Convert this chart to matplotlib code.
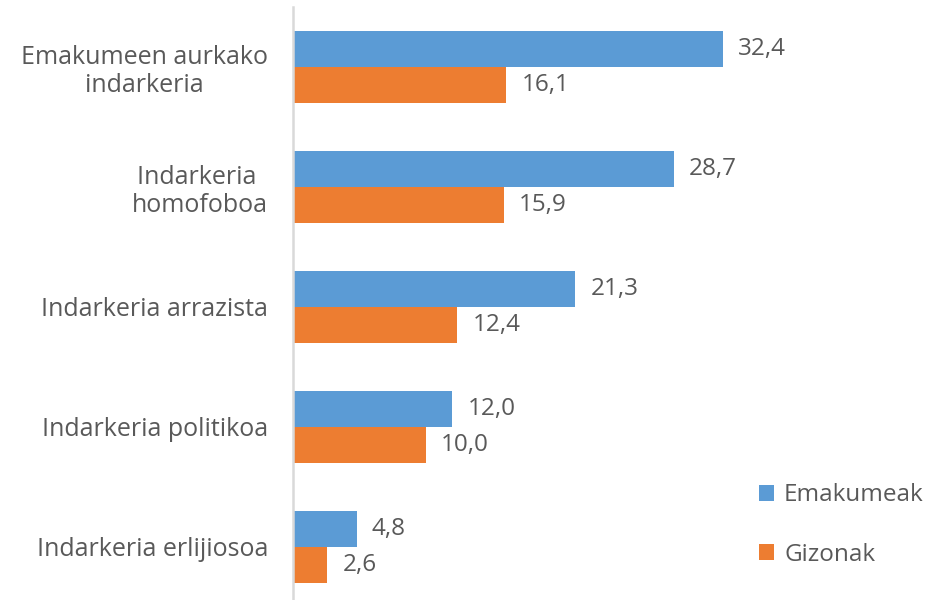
import matplotlib
matplotlib.use("Agg")
import matplotlib.pyplot as plt
from matplotlib.patches import Patch
import numpy as np

categories = ["Emakumeen aurkako\nindarkeria", "Indarkeria \nhomofoboa", "Indarkeria arrazista",
              "Indarkeria politikoa", "Indarkeria erlijiosoa"]
emakumeak = [32.4, 28.7, 21.3, 12.0, 4.8]
gizonak = [16.1, 15.9, 12.4, 10.0, 2.6]
series_names = ["Emakumeak", "Gizonak"]

BLUE = "#5B9BD5"
ORANGE = "#ED7D31"
GRAY = "#595959"

plt.rcParams['font.family'] = ['Open Sans', 'DejaVu Sans']

W, H = 933, 600
fig = plt.figure(figsize=(W / 100, H / 100), dpi=100)
# axes: left edge at x=293px, top at y=7px, 120px per category
x0 = 293
px_per_unit = 13.26
xmax = 45
ax = fig.add_axes([x0 / W, 1 - (7 + 600) / H, xmax * px_per_unit / W, 600 / H])

y = np.arange(len(categories))
h = 0.3
b1 = ax.barh(y - h / 2, emakumeak, height=h, color=BLUE)
b2 = ax.barh(y + h / 2, gizonak, height=h, color=ORANGE)

fmt = lambda v: f"{v:.1f}".replace(".", ",")
ax.bar_label(b1, labels=[fmt(v) for v in emakumeak], padding=11, fontsize=17.5, color=GRAY)
ax.bar_label(b2, labels=[fmt(v) for v in gizonak], padding=11, fontsize=17.5, color=GRAY)

ax.set_ylim(len(categories) - 0.5, -0.5)
ax.set_xlim(0, xmax)
ax.set_yticks(y)
ax.set_yticklabels(categories, fontsize=18, color=GRAY, multialignment="center",
                   linespacing=1.15)
ax.tick_params(axis="y", length=0, pad=18)
ax.set_xticks([])

for s in ["top", "right", "bottom"]:
    ax.spines[s].set_visible(False)
ax.spines["left"].set_color("#D9D9D9")
ax.spines["left"].set_linewidth(1.8)

handles = [Patch(facecolor=BLUE), Patch(facecolor=ORANGE)]
fig.legend(handles, series_names, loc="center left", bbox_to_anchor=(759 / W, 1 - 525 / H),
           frameon=False, fontsize=17.5, labelcolor=GRAY, handlelength=0.63, handleheight=0.63,
           handletextpad=0.4, labelspacing=1.45, borderpad=0, borderaxespad=0)

fig.savefig("out.png", dpi=100)
